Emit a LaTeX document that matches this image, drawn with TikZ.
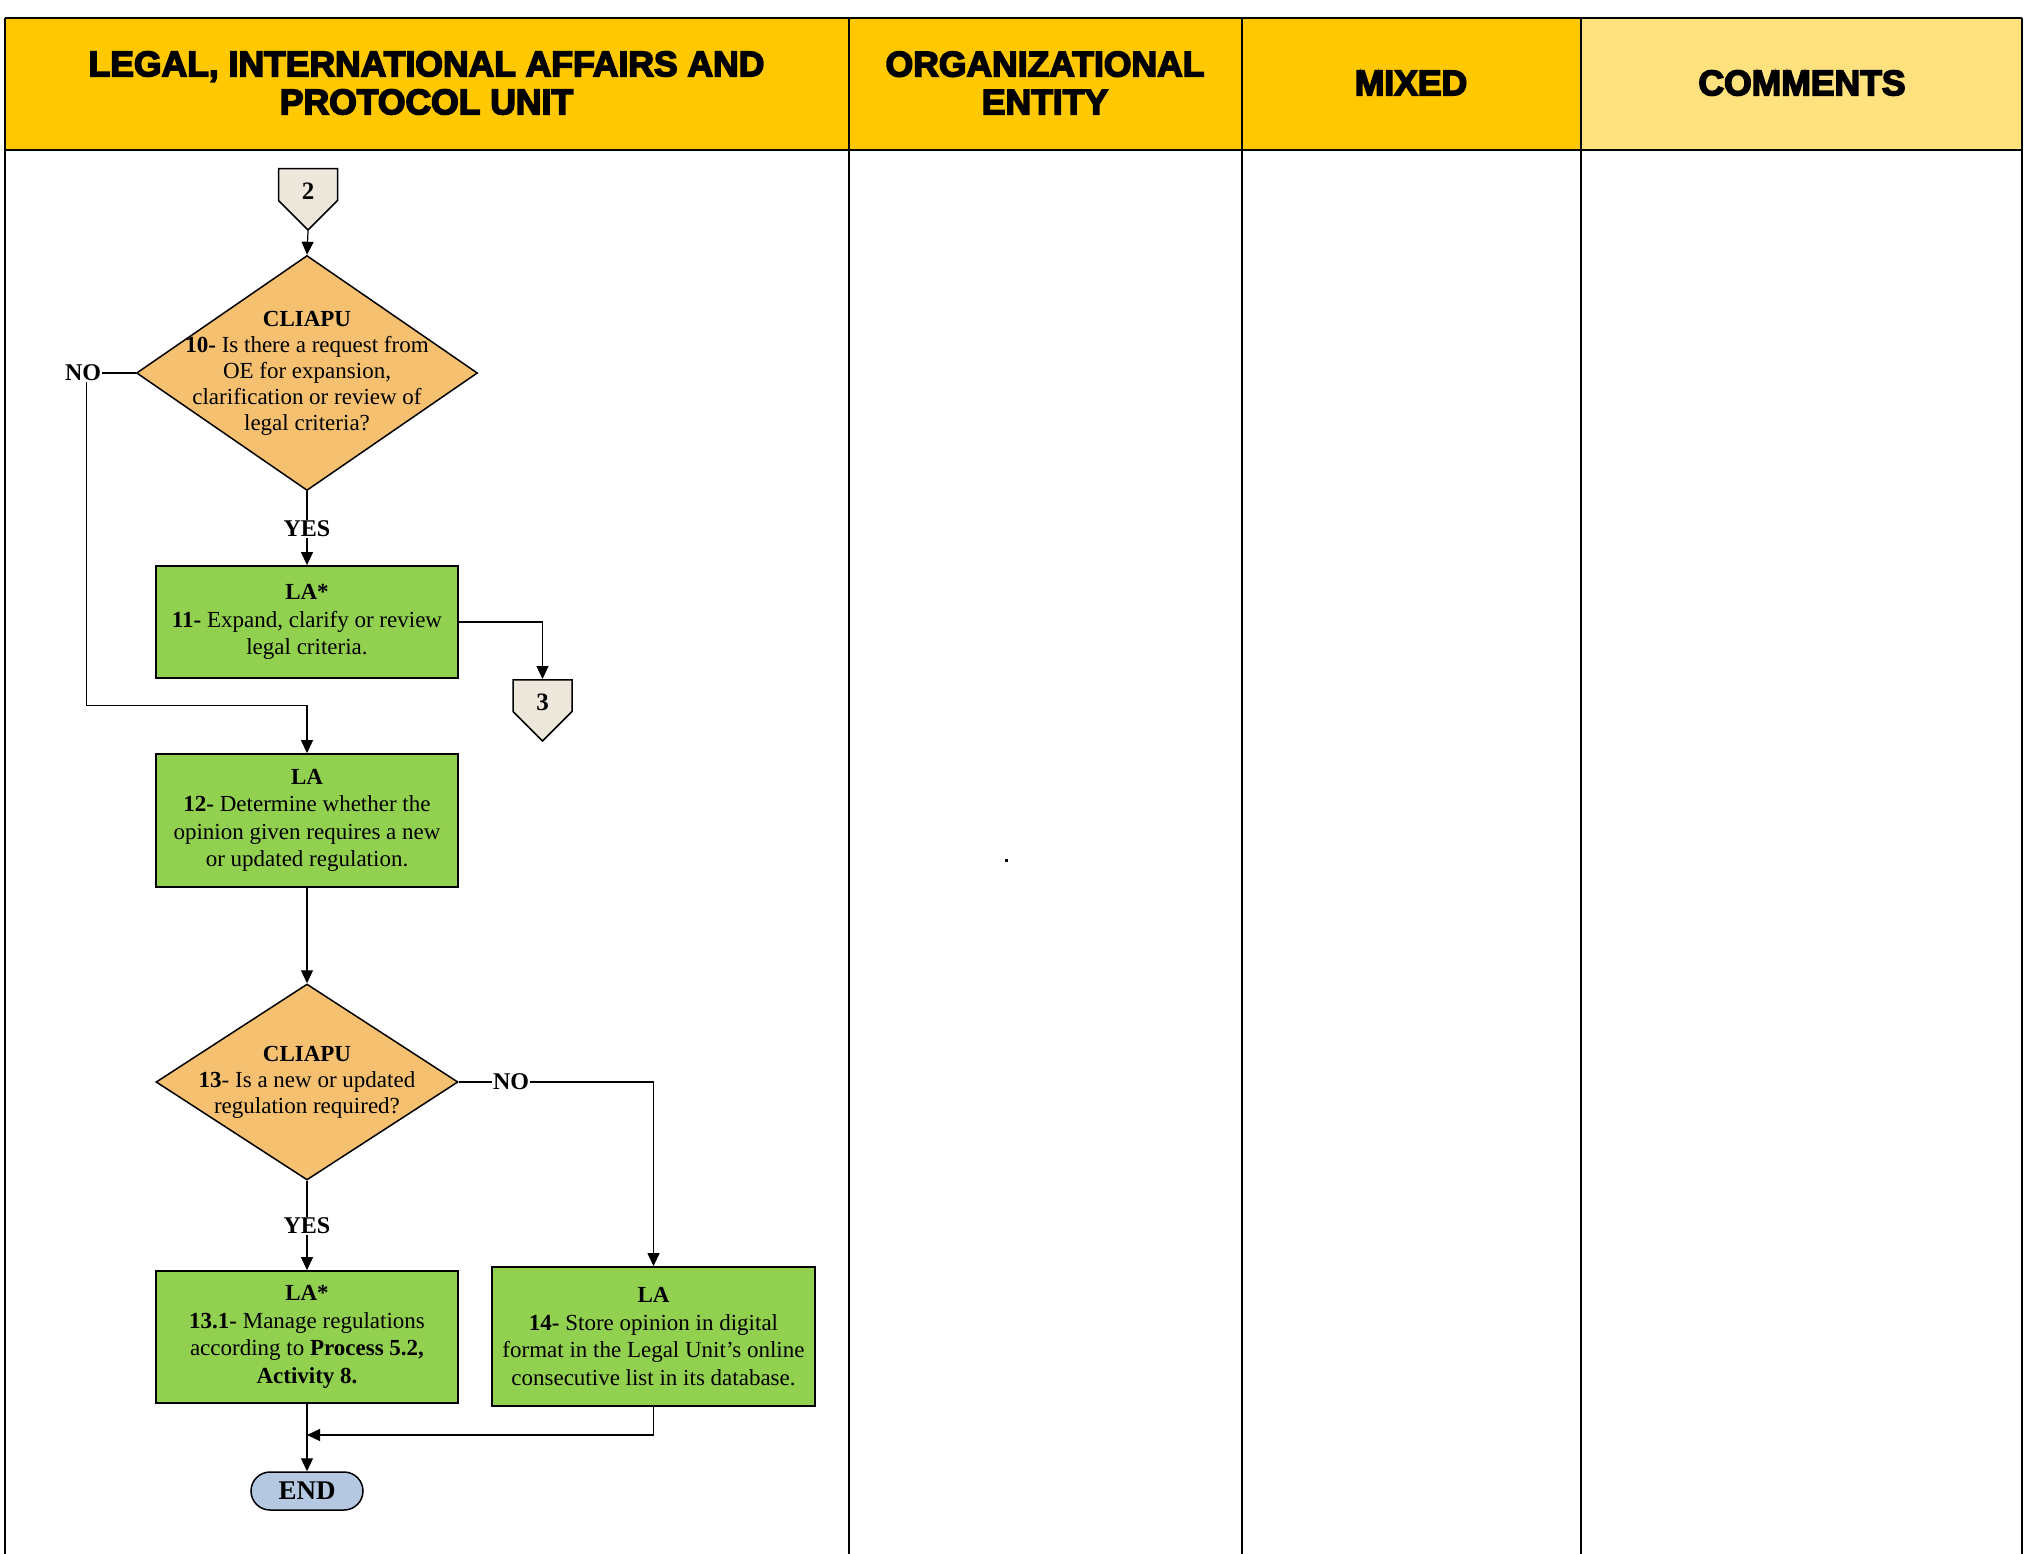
\documentclass[tikz,border=0pt]{standalone}
\usepackage{fontspec}
\setmainfont{Liberation Serif}
\newfontfamily\hdrfont[BoldFeatures={FakeBold=4.5}]{Liberation Sans}
\usetikzlibrary{shapes.geometric,shapes.symbols,arrows.meta,calc}
\definecolor{hgold}{HTML}{FFC800}
\definecolor{hlight}{HTML}{FFE17D}
\definecolor{boxgreen}{HTML}{92D050}
\definecolor{diaorange}{HTML}{F5C171}
\definecolor{connfill}{HTML}{EEE7DC}
\definecolor{endblue}{HTML}{B4C8E2}
\begin{document}
\begin{tikzpicture}[x=1pt,y=-1pt,
  tbl/.style={line width=2pt},
  hdr/.style={font=\hdrfont\bfseries\fontsize{35.5}{38}\selectfont, align=center, inner sep=0},
  box/.style={draw, line width=1.8pt, fill=boxgreen, minimum width=302pt, inner sep=0, align=center, font=\fontsize{23}{27.5}\selectfont},
  dia/.style={diamond, draw, line width=1.5pt, fill=diaorange, inner sep=0},
  dtext/.style={align=center, inner sep=0, font=\fontsize{23}{26}\selectfont},
  arr/.style={line width=1.2pt, -{Triangle[length=13pt,width=12pt]}},
  ln/.style={line width=1.2pt},
  lbl/.style={font=\bfseries\fontsize{24}{28}\selectfont, inner sep=1pt},
  conn/.style={signal, signal to=south, signal from=nowhere, signal pointer angle=90, draw, line width=1.5pt, fill=connfill, minimum width=59pt, minimum height=38pt, text height=0pt, text depth=0pt, inner sep=0, font=\bfseries\fontsize{25}{28}\selectfont},
  endn/.style={draw, line width=1.5pt, fill=endblue, rounded corners=19pt, minimum width=112pt, minimum height=38pt, inner sep=0, font=\bfseries\fontsize{27}{30}\selectfont}
]
\useasboundingbox (0,0) rectangle (2025,1554);
% header
\fill[hgold] (5,18) rectangle (1581,150);
\fill[hlight] (1581,18) rectangle (2022,150);
\draw[tbl] (5,18) -- (2022,18);
\draw[tbl] (5,150) -- (2022,150);
\foreach \x in {5,848.5,1242,1581,2022} \draw[tbl] (\x,18) -- (\x,1554);
\node[hdr] (h1) at (426.5,83) {LEGAL, INTERNATIONAL AFFAIRS AND\\PROTOCOL UNIT};
\node[hdr] (h2) at (1045,83) {ORGANIZATIONAL\\ENTITY};
\node[hdr] (h3) at (1411,83) {MIXED};
\node[hdr] (h4) at (1802,83) {COMMENTS};
\fill (1004.5,858.5) rectangle (1007.5,861.5);
% flow
\node[conn, anchor=north] (c2) at (308,168) {\raisebox{-15pt}{2}};
\node[dia, minimum width=341pt, minimum height=235pt,
  label={[dtext]center:{\textbf{CLIAPU}\\\textbf{10-} Is there a request from\\OE for expansion,\\clarification or review of\\legal criteria?}}] (d1) at (307,373) {};
\draw[arr] (c2.south) -- (d1.north);
\node[lbl] (no1) at (83,373) {NO};
\node[lbl] (yes1) at (307,529) {YES};
\node[box, minimum height=112pt] (b11) at (307,622) {\textbf{LA*}\\\textbf{11-} Expand, clarify or review\\legal criteria.};
\node[conn, anchor=north] (c3) at (542.5,679) {\raisebox{-15pt}{3}};
\node[box, minimum height=133pt] (b12) at (307,820.5) {\textbf{LA}\\\textbf{12-} Determine whether the\\opinion given requires a new\\or updated regulation.};
\node[dia, minimum width=302pt, minimum height=196pt,
  label={[dtext]center:{\textbf{CLIAPU}\\\textbf{13}- Is a new or updated\\regulation required?}}] (d2) at (307,1082) {};
\node[lbl] (no2) at (511,1082) {NO};
\node[lbl] (yes2) at (307,1226) {YES};
\node[box, minimum height=132pt] (b131) at (307,1337) {\textbf{LA*}\\\textbf{13.1-} Manage regulations\\according to \textbf{Process 5.2,}\\\textbf{Activity 8.}};
\node[box, minimum width=323pt, minimum height=139pt] (b14) at (653.5,1336.5) {\textbf{LA}\\\textbf{14-} Store opinion in digital\\format in the Legal Unit{\char39}s online\\consecutive list in its database.};
\node[endn] (end) at (307,1491) {END};
\coordinate (mrg) at (307,1435);
% connectors
\draw[ln] (d1.west) -- (no1.east);
\draw[arr] ([xshift=3.5pt]no1.south) |- ($(b12.north)+(0,-48)$) -- (b12.north);
\draw[ln] (d1.south) -- (yes1.north);
\draw[arr] (yes1.south) -- (b11.north);
\draw[arr] (b11.east) -| (c3.north);
\draw[arr] (b12.south) -- (d2.north);
\draw[ln] (d2.east) -- (no2.west);
\draw[arr] (no2.east) -| (b14.north);
\draw[ln] (d2.south) -- (yes2.north);
\draw[arr] (yes2.south) -- (b131.north);
\draw[arr] (b131.south) -- (end.north);
\draw[arr] (b14.south) |- (mrg);
\end{tikzpicture}
\end{document}
